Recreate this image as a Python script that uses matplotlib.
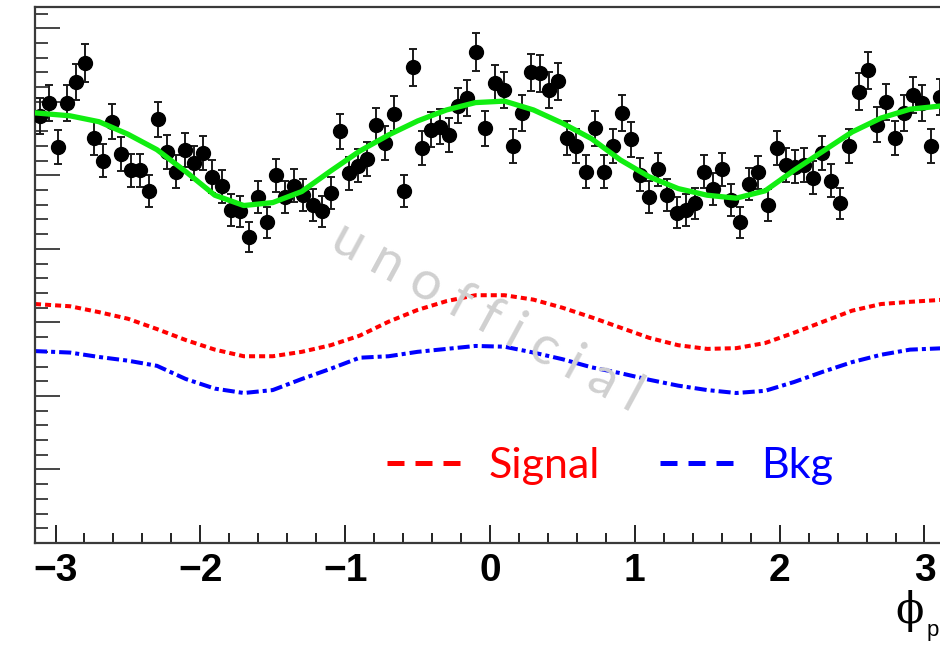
import numpy as np
import matplotlib
matplotlib.use("Agg")
import matplotlib.pyplot as plt
from matplotlib.lines import Line2D
from matplotlib.ticker import MultipleLocator

# ---------------- data ----------------
n_bins = 100
bin_edges = np.linspace(-np.pi, np.pi, n_bins + 1)
bin_centers = 0.5 * (bin_edges[:-1] + bin_edges[1:])

counts = np.array([
    581, 599, 538, 599, 627, 653, 551, 520, 573, 529,
    507, 507, 479, 576, 532, 505, 534, 517, 530, 498,
    485, 453, 451, 416, 471, 436, 500, 471, 486, 473,
    460, 451, 476, 560, 503, 513, 522, 568, 544, 584,
    479, 647, 537, 562, 566, 555, 595, 605, 668, 564,
    625, 616, 540, 585, 640, 639, 616, 628, 551, 540,
    505, 564, 505, 540, 585, 549, 501, 470, 508, 473,
    449, 453, 462, 505, 481, 508, 467, 436, 488, 504,
    460, 537, 514, 512, 514, 497, 531, 493, 462, 540,
    614, 643, 569, 600, 551, 585, 609, 599, 540, 607,
], dtype=float)
count_err = np.sqrt(counts)

curve_x = [-3.1416, -2.9, -2.7, -2.5, -2.3, -2.1, -1.9, -1.7, -1.5, -1.3,
           -1.1, -0.9, -0.7, -0.5, -0.3, -0.1, 0.1, 0.3, 0.5, 0.7,
           0.9, 1.1, 1.3, 1.5, 1.7, 1.9, 2.1, 2.3, 2.5, 2.7, 2.9, 3.1416]
fit_total = [585, 581, 573, 556, 535, 505, 473, 459, 463, 478,
             506, 533, 555, 574, 589, 599, 601, 589, 571, 550,
             521, 498, 482, 473, 469, 479, 507, 533, 559, 578, 590, 595]
fit_signal = [325, 322, 314, 305, 291, 276, 263, 254, 254, 260,
              269, 282, 301, 317, 329, 337, 337, 331, 320, 307,
              293, 279, 269, 264, 265, 272, 286, 301, 316, 325, 328, 331]
fit_bkg = [261, 259, 253, 248, 241, 223, 210, 204, 208, 223,
           237, 252, 254, 260, 264, 268, 267, 259, 250, 239,
           231, 222, 214, 208, 204, 207, 219, 233, 246, 256, 263, 265]

x_ticks = [-3, -2, -1, 0, 1, 2, 3]
legend_labels = ["Signal", "Bkg"]

# ---------------- figure ----------------
W, H = 940, 651
fig = plt.figure(figsize=(W / 100, H / 100), dpi=100)
ax_left, ax_right, ax_bottom, ax_top = 35, 945, 543, 7
ax = fig.add_axes([ax_left / W, (H - ax_bottom) / H,
                   (ax_right - ax_left) / W, (ax_bottom - ax_top) / H])

ax.set_xlim(-np.pi, np.pi)
ax.set_ylim(0, 729)

ax.errorbar(bin_centers, counts, yerr=count_err, fmt='o', color='black',
            ms=10, ecolor='#1a1a1a', elinewidth=1.4, capsize=3, capthick=1.4,
            zorder=3)
ax.plot(curve_x, fit_total, color='#11ee11', lw=3.8, zorder=4,
        solid_capstyle='round', solid_joinstyle='round')
ax.plot(curve_x, fit_signal, color='#ff0000', lw=2.9, ls=(0, (1.5, 1.0)),
        zorder=2)
ax.plot(curve_x, fit_bkg, color='#0000ff', lw=2.9, ls=(0, (3, 1, 1, 1)),
        zorder=2)

# axes styling (ROOT-like)
for side in ['left', 'bottom', 'top', 'right']:
    ax.spines[side].set_linewidth(1.6)
    ax.spines[side].set_color('#3a3a3a')

ax.xaxis.set_major_locator(matplotlib.ticker.FixedLocator(x_ticks))
ax.xaxis.set_minor_locator(MultipleLocator(0.2))
ax.yaxis.set_major_locator(MultipleLocator(100))
ax.yaxis.set_minor_locator(MultipleLocator(20))
ax.tick_params(axis='x', which='major', direction='in', length=13, width=1.4,
               color='#222222', pad=7, labelsize=28, top=False)
ax.tick_params(axis='x', which='minor', direction='in', length=7, width=1.4,
               color='#222222', top=False)
ax.tick_params(axis='y', which='major', direction='in', length=18, width=1.4,
               color='#444444', labelleft=False, right=False)
ax.tick_params(axis='y', which='minor', direction='in', length=9.5, width=1.4,
               color='#444444', right=False)
for lab in ax.get_xticklabels():
    lab.set_fontfamily('Liberation Sans')
    lab.set_fontweight('bold')

# legend
handles = [Line2D([], [], color='#ff0000', lw=3.6, ls=(0, (3.4, 2.2))),
           Line2D([], [], color='#0000ff', lw=3.6, ls=(0, (3.4, 2.2)))]
leg = ax.legend(handles, legend_labels, loc='center left',
                bbox_to_anchor=((387 - ax_left) / (ax_right - ax_left),
                                (ax_bottom - 466) / (ax_bottom - ax_top)),
                ncol=2, frameon=False, borderpad=0, borderaxespad=0,
                handlelength=1.7, handletextpad=0.65, columnspacing=1.4,
                prop={'family': 'Lato', 'size': 31}, labelcolor='linecolor')

# watermark
fig.text(487 / W, 1 - 317 / H, "u n o f f i c i a l", rotation=-28.5,
         rotation_mode='anchor', ha='center', va='center', color='#d0d0d0',
         fontsize=39, family='Lato', zorder=10)

# axis title (at the right edge, as in the original)
fig.text(895 / W, 1 - 590 / H, "\u03d5", ha='left', va='top',
         fontsize=30, color='black', family='DejaVu Serif')
fig.text(927 / W, 1 - 620 / H, "p", ha='left', va='top',
         fontsize=16, color='black', family='Liberation Sans')

fig.savefig('out.png', dpi=100)
